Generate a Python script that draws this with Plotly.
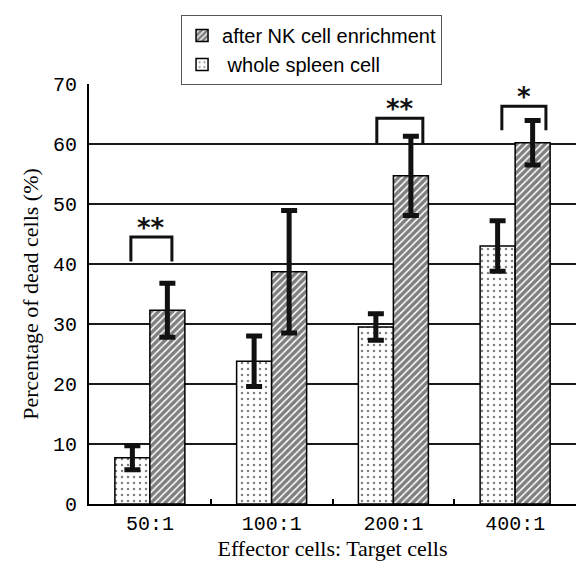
import plotly.graph_objects as go

# ---- data ----
categories = ["50:1", "100:1", "200:1", "400:1"]
whole_spleen = [7.7, 23.8, 29.5, 43.0]
whole_spleen_err = [2.0, 4.2, 2.2, 4.2]
nk_enriched = [32.3, 38.7, 54.7, 60.2]
nk_enriched_err = [4.5, 10.2, 6.6, 3.7]

y_ticks = [0, 10, 20, 30, 40, 50, 60, 70]

# significance marks: category index, label, bracket top, leg bottom
sig_index = [0, 2, 3]
sig_labels = ["**", "**", "*"]
sig_top = [44.5, 64.3, 66.3]
sig_bottom = [40.4, 60.0, 62.3]

# bracket horizontal extents relative to category centre (layout only)
br_left = [-0.156, -0.136, -0.109]
br_right = [0.181, 0.242, 0.253]

fig = go.Figure()

fig.add_trace(go.Bar(
    x=categories, y=whole_spleen, name="\u00a0whole spleen cell",
    marker=dict(color="white", line=dict(color="black", width=1.5),
                pattern=dict(shape=".", fgcolor="black", bgcolor="white",
                             size=6, solidity=0.14)),
    error_y=dict(type="data", array=whole_spleen_err, color="#111",
                 thickness=5, width=8),
))
fig.add_trace(go.Bar(
    x=categories, y=nk_enriched, name="after NK cell enrichment",
    marker=dict(color="white", line=dict(color="black", width=1.5),
                pattern=dict(shape="/", fgcolor="black", bgcolor="white",
                             size=5, solidity=0.7)),
    error_y=dict(type="data", array=nk_enriched_err, color="#111",
                 thickness=5, width=8),
))

shapes = []
annotations = []
for k, i in enumerate(sig_index):
    x0 = i + br_left[k]
    x1 = i + br_right[k]
    shapes.append(dict(
        type="path", xref="x", yref="y",
        path=f"M {x0},{sig_bottom[k]} L {x0},{sig_top[k]} L {x1},{sig_top[k]} L {x1},{sig_bottom[k]}",
        line=dict(color="#111", width=3),
    ))
    annotations.append(dict(
        x=(x0 + x1) / 2, y=sig_top[k], xref="x", yref="y",
        text="<b>" + sig_labels[k] + "</b>", showarrow=False, yanchor="bottom", yshift=-8,
        font=dict(family="DejaVu Sans", size=26, color="#111"),
    ))

fig.update_layout(
    width=576, height=565,
    margin=dict(l=89, r=0, t=84, b=61),
    paper_bgcolor="white", plot_bgcolor="white",
    barmode="group", bargap=0.425, bargroupgap=0,
    showlegend=True,
    legend=dict(
        x=0.189, y=1.164, xanchor="left", yanchor="top",
        traceorder="reversed",
        bordercolor="#555", borderwidth=1, bgcolor="white",
        font=dict(family="Liberation Sans, Arial", size=20, color="black"),
        tracegroupgap=0, itemwidth=30,
    ),
    shapes=shapes,
    annotations=annotations,
)

fig.update_xaxes(
    type="category", range=[-0.5, 3.5],
    showline=True, linecolor="black", linewidth=2,
    ticks="inside", tickson="boundaries", ticklen=5, tickwidth=1.5, tickcolor="black",
    showgrid=False,
    tickfont=dict(family="Liberation Mono", size=20, color="black"),
    title=dict(text="Effector cells: Target cells",
               font=dict(family="Liberation Serif, Times New Roman", size=22, color="black"),
               standoff=6),
)
fig.update_yaxes(
    range=[0, 70], tickvals=y_ticks,
    showline=True, linecolor="black", linewidth=2,
    showgrid=True, gridcolor="#1a1a1a", gridwidth=1.5,
    zeroline=False, ticks="", ticklabelstandoff=6,
    tickfont=dict(family="Liberation Mono", size=20, color="black"),
    title=dict(text="Percentage of dead cells (%)",
               font=dict(family="Liberation Serif, Times New Roman", size=22, color="black"),
               standoff=8),
)

fig.write_html("out.html")
